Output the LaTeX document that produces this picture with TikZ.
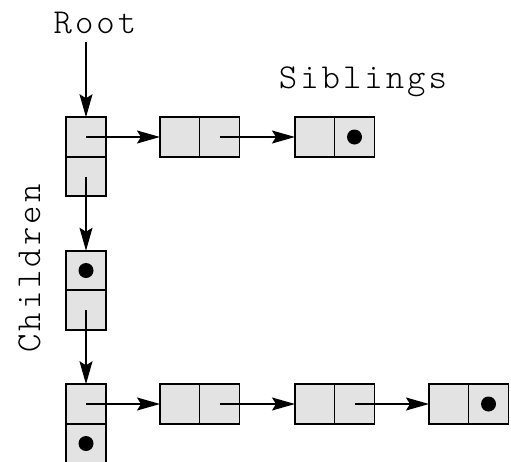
\documentclass[tikz,border=0pt]{standalone}
\usepackage{fontspec}
\newfontfamily\capfont{lmmonolt10-regular.otf}[LetterSpace=8.6]
\usetikzlibrary{arrows.meta}
\definecolor{cellfill}{gray}{0.89}
\begin{document}
\begin{tikzpicture}[x=1pt,y=-1pt,
  cell/.style={draw, fill=cellfill, line width=1.8pt, minimum width=40pt,
    minimum height=39.5pt, inner sep=0pt, outer sep=0pt},
  link/.style={line width=1.4pt, -{Stealth[length=23pt,width=13pt,inset=4pt]}},
  nil/.style={fill=black, circle, minimum size=15pt, inner sep=0pt},
  caption/.style={font=\capfont\fontsize{35}{40}\selectfont, inner sep=0pt}]
\useasboundingbox (0,0) rectangle (511,461);
\clip (0,0) rectangle (511,461);

% root node: child / sibling cells stacked
\node[cell] (r1) at (86,137) {};
\node[cell] (r2) at (86,176.5) {};

% first sibling row
\node[cell] (a1) at (180,137) {};
\node[cell] (a2) at (219.5,137) {};
\node[cell] (b1) at (315,137) {};
\node[cell] (b2) at (354.5,137) {};
\node[nil] (bn) at (b2.center) {};

% first child (no siblings)
\node[cell] (c1) at (86,270.5) {};
\node[cell] (c2) at (86,310) {};
\node[nil] (cn) at (c1.center) {};

% second child and its siblings
\node[cell] (d1) at (86,404) {};
\node[cell] (d2) at (86,443.5) {};
\node[nil] (dn) at (d2.center) {};
\node[cell] (e1) at (180,404) {};
\node[cell] (e2) at (219.5,404) {};
\node[cell] (f1) at (315,404) {};
\node[cell] (f2) at (354.5,404) {};
\node[cell] (g1) at (449,404) {};
\node[cell] (g2) at (488.5,404) {};
\node[nil] (gn) at (g2.center) {};

% labels
\node[caption, anchor=base] (root) at (95,33) {Root};
\node[caption, anchor=base] (sib) at (363,88) {Siblings};
\node[caption, anchor=base, rotate=90] (chl) at (40,268.5) {Children};
\coordinate (rootend) at (86,42);

% links
\draw[link] (rootend) -- (r1.north);
\draw[link] (r1.center) -- (a1.west);
\draw[link] (a2.center) -- (b1.west);
\draw[link] (r2.center) -- (c1.north);
\draw[link] (c2.center) -- (d1.north);
\draw[link] (d1.center) -- (e1.west);
\draw[link] (e2.center) -- (f1.west);
\draw[link] (f2.center) -- (g1.west);
\end{tikzpicture}
\end{document}
